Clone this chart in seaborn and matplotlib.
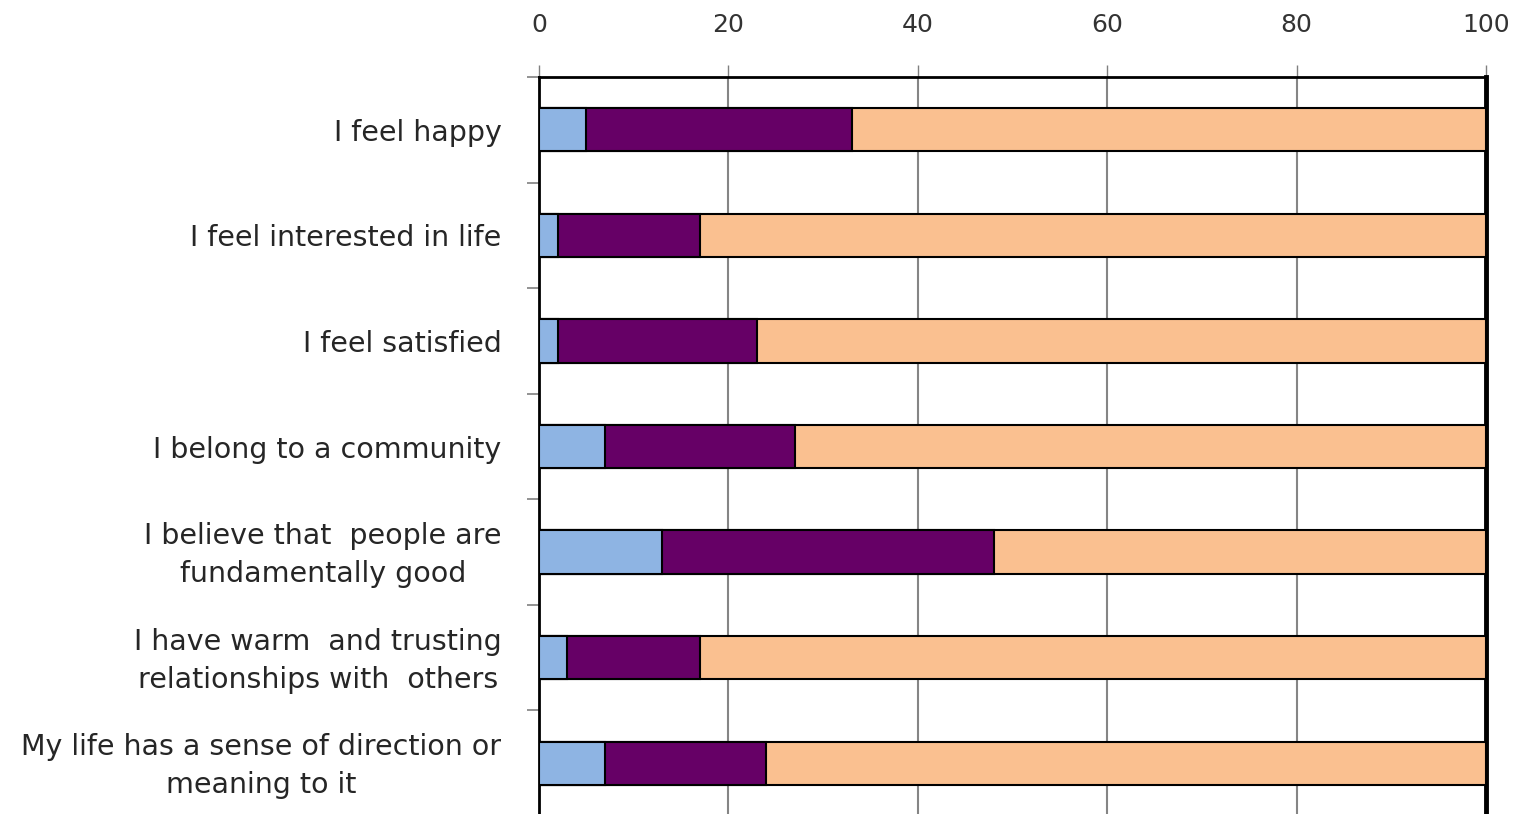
import matplotlib
matplotlib.use("Agg")
import matplotlib.pyplot as plt
import matplotlib.transforms as mtransforms
import seaborn as sns
import pandas as pd
import numpy as np

categories = [
    "I feel happy",
    "I feel interested in life",
    "I feel satisfied",
    "I belong to a community",
    "I believe that  people are\nfundamentally good",
    "I have warm  and trusting\nrelationships with  others",
    "My life has a sense of direction or\nmeaning to it",
]
low = [5, 2, 2, 7, 13, 3, 7]
mid = [28, 15, 21, 20, 35, 14, 17]
high = [67, 83, 77, 73, 52, 83, 76]
series_colors = ["#8EB4E3", "#660066", "#FAC090"]
x_ticks = [0, 20, 40, 60, 80, 100]

sns.set_theme(style="white")
plt.rcParams['font.family'] = ['DejaVu Sans']

df = pd.DataFrame({"cat": categories, "low": low, "mid": mid, "high": high})
df["c1"] = df["low"]
df["c2"] = df["low"] + df["mid"]
df["c3"] = df["low"] + df["mid"] + df["high"]

fig = plt.figure(figsize=(15.24, 8.14), dpi=100)
ax = fig.add_axes([0.3537, -0.0025, 0.6214, 0.9079])

for col, colr in zip(["c3", "c2", "c1"], series_colors[::-1]):
    sns.barplot(data=df, x=col, y="cat", orient="h", color=colr, width=0.41,
                edgecolor="black", linewidth=1.5, ax=ax, saturation=1, zorder=3)

ax.set_xlim(0, 100)
ax.set_ylim(6.5, -0.5)
ax.set_xticks(x_ticks)
ax.xaxis.tick_top()
ax.tick_params(axis="x", which="major", top=True, length=9, width=1, color="#808080",
               labelsize=18, labelcolor="#333333", pad=20)
ax.set_xlabel("")
ax.set_ylabel("")
ax.grid(axis="x", color="#858585", linewidth=1.5, zorder=0)
ax.set_axisbelow(True)

ax.set_yticks(range(len(categories)))
ax.set_yticklabels(categories, fontsize=20.5, color="#262626", linespacing=1.45,
                   multialignment="center")
ax.tick_params(axis="y", which="major", length=0, pad=27)
ax.set_yticks(np.arange(-0.5, 7.0, 1.0), minor=True)
ax.tick_params(axis="y", which="minor", left=True, length=8.5, width=1.2, color="#808080")

# nudge two-line labels up slightly
for lbl in ax.get_yticklabels():
    if "\n" in lbl.get_text():
        lbl.set_transform(lbl.get_transform() +
                          mtransforms.ScaledTranslation(0, 5 / 100, fig.dpi_scale_trans))

for s in ["left", "top", "bottom"]:
    ax.spines[s].set_color("black")
    ax.spines[s].set_linewidth(2)
ax.spines["right"].set_color("black")
ax.spines["right"].set_linewidth(3.5)

fig.savefig("out.png", dpi=100)
